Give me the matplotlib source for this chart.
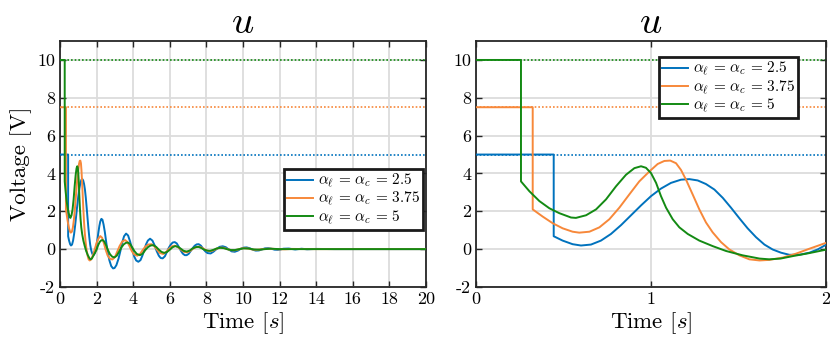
import matplotlib
matplotlib.use("Agg")
import matplotlib.pyplot as plt

plt.rcParams['font.family'] = ['cmr10', 'DejaVu Serif']
plt.rcParams['mathtext.fontset'] = 'cm'
plt.rcParams['axes.unicode_minus'] = False
plt.rcParams['axes.formatter.use_mathtext'] = False

# reference values (alpha_l = alpha_c)
alphas = ['2.5', '3.75', '5']
u_ref = [5.0, 7.5, 10.0]

# alpha = 2.5
t_a = [0, 0.444, 0.444, 0.495, 0.552, 0.6, 0.657, 0.714, 0.771, 0.829, 0.886, 0.943,
       1.0, 1.057, 1.114, 1.171, 1.219, 1.267, 1.314, 1.362, 1.41, 1.457, 1.505,
       1.552, 1.6, 1.648, 1.695, 1.743, 1.79, 1.848, 1.905, 1.952, 2.0, 2.05, 2.1,
       2.15, 2.2, 2.26, 2.32, 2.38, 2.45, 2.52, 2.6, 2.7, 2.8, 2.9, 2.98, 3.08, 3.2,
       3.3, 3.4, 3.5, 3.61, 3.72, 3.83, 3.94, 4.05, 4.16, 4.28, 4.4, 4.5, 4.6, 4.7,
       4.8, 4.92, 5.05, 5.17, 5.28, 5.4, 5.5, 5.61, 5.73, 5.84, 5.95, 6.06, 6.16,
       6.27, 6.38, 6.49, 6.6, 6.71, 6.82, 6.92, 7.03, 7.14, 7.25, 7.36, 7.47, 7.58,
       7.7, 7.82, 7.94, 8.06, 8.23, 8.38, 8.55, 8.72, 8.89, 9.06, 9.22, 9.38, 9.55,
       9.72, 9.9, 10.05, 10.2, 10.38, 10.55, 10.7, 10.87, 11.05, 11.2, 11.37, 11.55,
       11.72, 11.9, 12.05, 12.2, 12.5, 12.85, 13.2, 13.5, 14.0, 15.0, 20.0]
u_a = [5, 5, 0.68, 0.45, 0.26, 0.19, 0.24, 0.45, 0.8, 1.27, 1.79, 2.31, 2.8, 3.2,
       3.5, 3.67, 3.7, 3.63, 3.44, 3.15, 2.71, 2.19, 1.63, 1.1, 0.63, 0.24, -0.02,
       -0.19, -0.3, -0.3, -0.19, -0.02, 0.23, 0.55, 0.9, 1.22, 1.46, 1.6, 1.55, 1.3,
       0.9, 0.4, -0.15, -0.6, -0.9, -1.02, -1.0, -0.85, -0.5, -0.1, 0.35, 0.68, 0.82,
       0.72, 0.4, 0.0, -0.38, -0.6, -0.67, -0.58, -0.35, -0.05, 0.25, 0.45, 0.55,
       0.45, 0.2, -0.1, -0.35, -0.47, -0.49, -0.38, -0.15, 0.08, 0.25, 0.35, 0.37,
       0.3, 0.12, -0.08, -0.24, -0.32, -0.32, -0.25, -0.1, 0.05, 0.18, 0.25, 0.26,
       0.18, 0.02, -0.12, -0.21, -0.23, -0.14, 0.0, 0.12, 0.15, 0.1, -0.02, -0.12,
       -0.14, -0.08, 0.03, 0.08, 0.09, 0.04, -0.04, -0.08, -0.07, -0.01, 0.04, 0.05,
       0.02, -0.03, -0.04, -0.02, 0.02, 0.03, -0.02, 0.02, -0.01, 0.01, 0.0, 0.0]

# alpha = 3.75
t_b = [0, 0.324, 0.324, 0.381, 0.438, 0.495, 0.552, 0.59, 0.648, 0.705, 0.762, 0.819,
       0.876, 0.933, 0.99, 1.038, 1.076, 1.11, 1.143, 1.171, 1.2, 1.238, 1.276, 1.314,
       1.352, 1.4, 1.448, 1.505, 1.562, 1.62, 1.676, 1.752, 1.829, 1.905, 2.0, 2.1,
       2.2, 2.3, 2.4, 2.5, 2.6, 2.72, 2.86, 3.0, 3.12, 3.25, 3.4, 3.55, 3.68, 3.8,
       3.92, 4.05, 4.22, 4.38, 4.52, 4.66, 4.82, 5.0, 5.15, 5.3, 5.45, 5.64, 5.8,
       5.96, 6.12, 6.28, 6.45, 6.62, 6.78, 6.95, 7.12, 7.28, 7.44, 7.6, 7.78, 7.95,
       8.1, 8.25, 8.42, 8.6, 8.78, 8.95, 9.12, 9.3, 9.5, 9.7, 9.9, 10.1, 10.3, 10.5,
       10.75, 11.0, 11.3, 11.6, 11.9, 12.3, 12.7, 13.5, 20.0]
u_b = [7.5, 7.5, 2.1, 1.72, 1.37, 1.1, 0.92, 0.87, 0.92, 1.15, 1.58, 2.19, 2.89, 3.58,
       4.1, 4.5, 4.66, 4.68, 4.54, 4.19, 3.67, 2.89, 2.1, 1.41, 0.89, 0.37, -0.02,
       -0.33, -0.54, -0.6, -0.57, -0.45, -0.24, 0.02, 0.33, 0.55, 0.69, 0.6, 0.3,
       -0.05, -0.33, -0.5, -0.55, -0.42, -0.15, 0.15, 0.4, 0.48, 0.38, 0.15, -0.1,
       -0.28, -0.35, -0.25, -0.05, 0.13, 0.24, 0.26, 0.15, -0.03, -0.2, -0.26, -0.15,
       0.02, 0.15, 0.18, 0.1, -0.04, -0.15, -0.17, -0.09, 0.03, 0.11, 0.13, 0.06,
       -0.04, -0.1, -0.11, -0.05, 0.04, 0.08, 0.07, 0.01, -0.05, -0.07, -0.03, 0.03,
       0.05, 0.03, -0.02, -0.04, -0.01, 0.02, 0.02, -0.01, -0.01, 0.01, 0.0, 0.0]

# alpha = 5
t_c = [0, 0.257, 0.257, 0.305, 0.362, 0.419, 0.476, 0.543, 0.571, 0.629, 0.686, 0.743,
       0.8, 0.857, 0.905, 0.943, 0.971, 1.0, 1.029, 1.057, 1.086, 1.124, 1.162, 1.21,
       1.276, 1.352, 1.429, 1.524, 1.62, 1.676, 1.74, 1.81, 1.905, 2.0, 2.08, 2.17,
       2.25, 2.33, 2.42, 2.52, 2.62, 2.73, 2.85, 2.97, 3.1, 3.22, 3.35, 3.48, 3.6,
       3.7, 3.82, 3.94, 4.06, 4.2, 4.37, 4.52, 4.66, 4.8, 4.95, 5.1, 5.25, 5.4, 5.55,
       5.7, 5.85, 6.0, 6.15, 6.3, 6.45, 6.6, 6.75, 6.92, 7.08, 7.24, 7.4, 7.56, 7.72,
       7.88, 8.05, 8.2, 8.38, 8.55, 8.75, 8.95, 9.15, 9.35, 9.55, 9.8, 10.05, 10.3,
       10.6, 10.9, 11.2, 11.5, 12.0, 20.0]
u_c = [10, 10, 3.58, 3.06, 2.54, 2.16, 1.9, 1.67, 1.65, 1.79, 2.1, 2.63, 3.32, 3.93,
       4.28, 4.38, 4.3, 4.02, 3.5, 2.8, 2.19, 1.58, 1.15, 0.8, 0.45, 0.16, -0.1,
       -0.33, -0.5, -0.54, -0.5, -0.37, -0.21, -0.03, 0.2, 0.38, 0.46, 0.48, 0.4,
       0.2, -0.05, -0.27, -0.4, -0.44, -0.35, -0.15, 0.08, 0.25, 0.33, 0.35, 0.28,
       0.1, -0.1, -0.26, -0.32, -0.24, -0.05, 0.1, 0.19, 0.21, 0.12, -0.03, -0.15,
       -0.2, -0.15, -0.03, 0.1, 0.16, 0.12, 0.02, -0.09, -0.13, -0.08, 0.03, 0.1,
       0.12, 0.06, -0.03, -0.08, -0.09, -0.04, 0.03, 0.07, 0.05, -0.01, -0.05, -0.05,
       0.0, 0.04, 0.03, -0.02, -0.03, 0.0, 0.02, 0.0, 0.0]

times = [t_a, t_b, t_c]
signals = [u_a, u_b, u_c]
colors = ['#0072BD', '#F7883A', '#138A13']

fig = plt.figure(figsize=(8.3, 3.42), dpi=100)
ax1 = fig.add_axes([0.0723, 0.161, 0.441, 0.719])
ax2 = fig.add_axes([0.5735, 0.161, 0.4217, 0.719])


def style_axes(ax, xlim, xticks):
    ax.set_xlim(*xlim)
    ax.set_ylim(-2, 11)
    ax.set_xticks(xticks)
    ax.set_yticks(range(-2, 11, 2))
    ax.grid(True, color='#DCDCDC', linewidth=1.3)
    ax.set_axisbelow(True)
    ax.tick_params(direction='in', top=True, right=True, labelsize=13,
                   length=4, width=1, colors='#262626', labelcolor='black')
    for sp in ax.spines.values():
        sp.set_linewidth(1.3)
        sp.set_color('#262626')
    ax.set_title('$u$', fontsize=28, pad=6)
    ax.set_xlabel('Time [$s$]', fontsize=16.5, labelpad=2)


for ax in (ax1, ax2):
    for ref, c in zip(u_ref, colors):
        ax.axhline(ref, color=c, linestyle=(0, (1, 1.2)), linewidth=1.2, zorder=2)
    for t, u, c, a in zip(times, signals, colors, alphas):
        ax.plot(t, u, color=c, linewidth=1.4, zorder=3,
                label=r'$\alpha_\ell\,=\,\alpha_c\,=\,%s$' % a)

style_axes(ax1, (0, 20), range(0, 21, 2))
style_axes(ax2, (0, 2), [0, 1, 2])
ax1.set_ylabel('Voltage [V]', fontsize=16.5, labelpad=4)

for ax, anchor in ((ax1, (0.992, 0.48)), (ax2, (0.92, 0.935))):
    leg = ax.legend(loc='upper right', bbox_to_anchor=anchor, borderaxespad=0,
                    fontsize=11, handlelength=1.7, handletextpad=0.3,
                    labelspacing=0.0, borderpad=0.2, fancybox=False,
                    framealpha=1)
    leg.get_frame().set_edgecolor('#1A1A1A')
    leg.get_frame().set_linewidth(2)

fig.savefig('out.png', dpi=100)
